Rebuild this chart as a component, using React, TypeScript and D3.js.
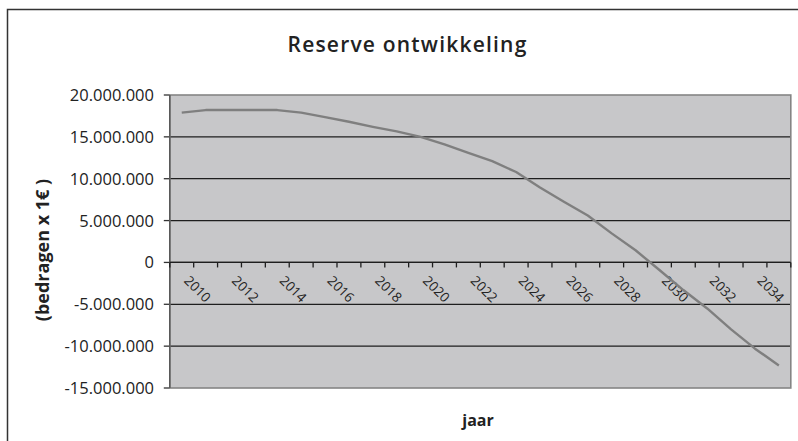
import React from "react";
import * as d3 from "d3";

const years = d3.range(2010, 2036).map(String);
const reserve = [
  17.9, 18.2, 18.2, 18.2, 18.2, 17.9, 17.36, 16.8, 16.2, 15.66, 15.0, 14.1, 13.1,
  12.1, 10.8, 8.95, 7.25, 5.6, 3.47, 1.45, -0.9, -3.3, -5.5, -8.0, -10.3, -12.3,
].map((v) => v * 1e6);
const yTicks = [-15e6, -10e6, -5e6, 0, 5e6, 10e6, 15e6, 20e6];
const yTickLabels = [
  "-15.000.000", "-10.000.000", "-5.000.000", "0", "5.000.000", "10.000.000", "15.000.000", "20.000.000",
];

const W = 798;
const H = 441;
const PL = 169.8;
const PR = 790.8;
const PT = 95;
const PB = 388;
const FONT = "'Open Sans', 'Noto Sans', sans-serif";

export default function App() {
  const x = d3.scaleBand<string>().domain(years).range([PL, PR]).paddingInner(0).paddingOuter(0);
  const y = d3.scaleLinear().domain([-15e6, 20e6]).range([PB, PT]);
  const cx = (yr: string) => (x(yr) as number) + x.bandwidth() / 2;
  const line = d3
    .line<number>()
    .x((_, i) => cx(years[i]))
    .y((d) => y(d));
  const y0 = y(0);
  const boundaries = years.map((yr) => x(yr) as number).concat([PR]);

  return (
    <svg
      width={W}
      height={H}
      style={{ position: "absolute", left: 0, top: 0, background: "#fff" }}
      fontFamily={FONT}
    >
      <rect x={7.5} y={9.5} width={W + 10} height={H + 10} fill="#fff" stroke="#333" strokeWidth={1.5} />
      <text x={407.5} y={52} textAnchor="middle" fontSize={21} fontWeight={600} fill="#222" letterSpacing={1.2}>
        Reserve ontwikkeling
      </text>
      <rect x={PL} y={PT} width={PR - PL} height={PB - PT} fill="#c7c7c9" />
      {yTicks.map((t, i) => (
        <g key={t}>
          {t !== -15e6 && t !== 20e6 && (
            <line x1={PL} x2={PR} y1={y(t)} y2={y(t)} stroke="#1e1e1e" strokeWidth={1.3} />
          )}
          <line x1={PL - 6} x2={PL} y1={y(t)} y2={y(t)} stroke="#333" strokeWidth={1.3} />
          <text x={154} y={y(t)} dy="0.36em" textAnchor="end" fontSize={16.5} fill="#222">
            {yTickLabels[i]}
          </text>
        </g>
      ))}
      <rect x={PL} y={PT} width={PR - PL} height={PB - PT} fill="none" stroke="#858585" strokeWidth={1.6} />
      <line x1={PL} x2={PL} y1={PT} y2={PB} stroke="#555" strokeWidth={1.4} />
      <line x1={PL} x2={PR} y1={y0} y2={y0} stroke="#1e1e1e" strokeWidth={1.3} />
      {boundaries.map((b, i) => (
        <line key={i} x1={b} x2={b} y1={y0} y2={y0 + 5} stroke="#1e1e1e" strokeWidth={1.3} />
      ))}
      {years.map((yr, i) =>
        i % 2 === 0 ? (
          <text
            key={yr}
            transform={`translate(${cx(yr) + 1.5},${y0 + 19}) rotate(45)`}
            fontSize={13.5}
            fill="#222"
          >
            {yr}
          </text>
        ) : null
      )}
      <path d={line(reserve) || ""} fill="none" stroke="#7f7f7f" strokeWidth={2.4} strokeLinejoin="round" />
      <text
        transform={`translate(43,250) rotate(-90)`}
        textAnchor="middle"
        dy="0.35em"
        fontSize={18}
        fontWeight={700}
        fill="#222"
      >
        (bedragen x 1€ )
      </text>
      <text x={478} y={426} textAnchor="middle" fontSize={16} fontWeight={700} fill="#222">
        jaar
      </text>
    </svg>
  );
}
